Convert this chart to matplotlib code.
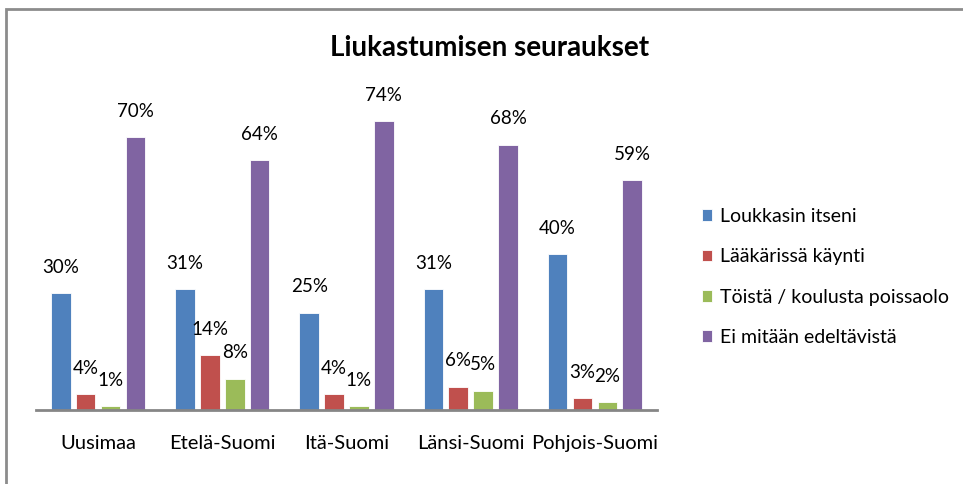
import matplotlib
matplotlib.use("Agg")
import matplotlib.pyplot as plt
from matplotlib.patches import Rectangle
import numpy as np

categories = ["Uusimaa", "Etelä-Suomi", "Itä-Suomi", "Länsi-Suomi", "Pohjois-Suomi"]
series_names = ["Loukkasin itseni", "Lääkärissä käynti", "Töistä / koulusta poissaolo", "Ei mitään edeltävistä"]
loukkasin = [30, 31, 25, 31, 40]
laakari = [4, 14, 4, 6, 3]
poissaolo = [1, 8, 1, 5, 2]
ei_mitaan = [70, 64, 74, 68, 59]
colors = ["#4F81BD", "#C0504D", "#9BBB59", "#8064A2"]

plt.rcParams['font.family'] = ['Lato', 'DejaVu Sans']

fig = plt.figure(figsize=(9.63, 4.84), dpi=100)
fig.patches.append(Rectangle((6/963, -0.1), 2, 1.1 - 9/484, transform=fig.transFigure,
                             fill=False, edgecolor="#8c8c8c", linewidth=2, zorder=0))

ax = fig.add_axes([36/963, 1 - 410/484, (657 - 36)/963, 312/484])
x = np.arange(len(categories))
width = 0.158
step = 0.2
all_series = [loukkasin, laakari, poissaolo, ei_mitaan]
for i, (vals, name, c) in enumerate(zip(all_series, series_names, colors)):
    pos = x + (i - 1.5) * step
    ax.bar(pos, vals, width, color=c, label=name, edgecolor="white", linewidth=0.6)
    for p, v in zip(pos, vals):
        ax.annotate(f"{v}%", (p, v), xytext=(0, 12.5), textcoords="offset points",
                    ha="center", va="bottom", fontsize=13.5, color="black")

ax.set_xlim(-0.5, 4.5)
ax.set_ylim(0, 80)
ax.set_yticks([])
for s in ["top", "right", "left"]:
    ax.spines[s].set_visible(False)
ax.spines["bottom"].set_color("#868686")
ax.spines["bottom"].set_linewidth(2)
ax.set_xticks(x)
ax.set_xticklabels(categories, fontsize=14.5)
ax.tick_params(axis="x", length=0, pad=18)

fig.text(490/963, 1 - 48/484, "Liukastumisen seuraukset", ha="center", va="center",
         fontsize=20, fontweight="bold")

fig.legend(loc="center left", bbox_to_anchor=(684/963, 1 - 277/484), frameon=False,
           fontsize=14, handlelength=0.55, handleheight=0.55, handletextpad=0.4,
           labelspacing=1.2)

fig.savefig("out.png", dpi=100)
